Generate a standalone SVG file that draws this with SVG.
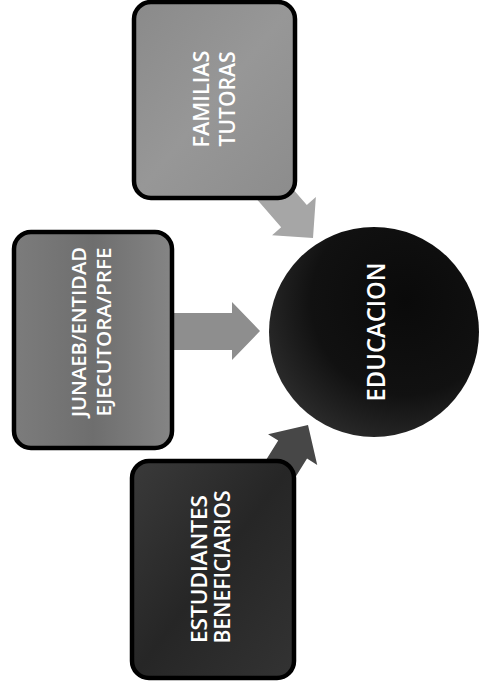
<svg xmlns="http://www.w3.org/2000/svg" width="480" height="682" viewBox="0 0 480 682">
  <defs>
    <style>
      .box { stroke: #000; stroke-width: 4.5; }
      .lbl { font-family: "Open Sans", "Liberation Sans", sans-serif; font-weight: 600; fill: #fff; text-anchor: middle; }
      .arrow { stroke: none; }
    </style>
    <linearGradient id="gFam" x1="0" y1="0" x2="1" y2="1">
      <stop offset="0" stop-color="#8a8a8a"/>
      <stop offset="0.5" stop-color="#979797"/>
      <stop offset="1" stop-color="#8c8c8c"/>
    </linearGradient>
    <linearGradient id="gJun" x1="0" y1="0" x2="1" y2="0">
      <stop offset="0" stop-color="#7c7c7c"/>
      <stop offset="0.5" stop-color="#6e6e6e"/>
      <stop offset="1" stop-color="#858585"/>
    </linearGradient>
    <linearGradient id="gEst" x1="0" y1="0" x2="1" y2="1">
      <stop offset="0" stop-color="#3a3a3a"/>
      <stop offset="0.5" stop-color="#262626"/>
      <stop offset="1" stop-color="#333333"/>
    </linearGradient>
    <radialGradient id="gCir" cx="0.65" cy="0.35" r="0.75">
      <stop offset="0" stop-color="#0a0a0a"/>
      <stop offset="0.6" stop-color="#111111"/>
      <stop offset="1" stop-color="#2e2e2e"/>
    </radialGradient>
  </defs>

  <g id="connectors">
    <polygon class="arrow" fill="#a6a6a6" points="0,0 -29,-29 -29,-17 -95,-17 -95,17 -29,17 -29,29" transform="translate(313,238) rotate(49)"/>
    <polygon class="arrow" fill="#8e8e8e" points="260,331 232,302 232,313 150,313 150,350 232,350 232,360"/>
    <polygon class="arrow" fill="#474747" points="0,0 -29,-29 -29,-17 -95,-17 -95,17 -29,17 -29,29" transform="translate(308,425) rotate(-58)"/>
  </g>

  <g id="familias">
    <rect class="box" x="134" y="2" width="161" height="196" rx="17" fill="url(#gFam)"/>
    <text class="lbl" font-size="22" transform="translate(201,99) rotate(-90)" y="8" textLength="97" lengthAdjust="spacingAndGlyphs">FAMILIAS</text>
    <text class="lbl" font-size="22" transform="translate(227,99) rotate(-90)" y="8" textLength="95" lengthAdjust="spacingAndGlyphs">TUTORAS</text>
  </g>

  <g id="junaeb">
    <rect class="box" x="14" y="232" width="158" height="216" rx="17" fill="url(#gJun)"/>
    <text class="lbl" font-size="20" transform="translate(79,332) rotate(-90)" y="7" textLength="170" lengthAdjust="spacingAndGlyphs">JUNAEB/ENTIDAD</text>
    <text class="lbl" font-size="20" transform="translate(104,332) rotate(-90)" y="7" textLength="169" lengthAdjust="spacingAndGlyphs">EJECUTORA/PRFE</text>
  </g>

  <g id="estudiantes">
    <rect class="box" x="132" y="461" width="162" height="217" rx="17" fill="url(#gEst)"/>
    <text class="lbl" font-size="22" transform="translate(199,569) rotate(-90)" y="8" textLength="148" lengthAdjust="spacingAndGlyphs">ESTUDIANTES</text>
    <text class="lbl" font-size="22" transform="translate(222,567) rotate(-90)" y="8" textLength="153" lengthAdjust="spacingAndGlyphs">BENEFICIARIOS</text>
  </g>

  <g id="educacion">
    <circle cx="374" cy="332" r="105" fill="url(#gCir)"/>
    <text class="lbl" font-size="25" transform="translate(376,332) rotate(-90)" y="9" textLength="139" lengthAdjust="spacingAndGlyphs">EDUCACION</text>
  </g>
</svg>
